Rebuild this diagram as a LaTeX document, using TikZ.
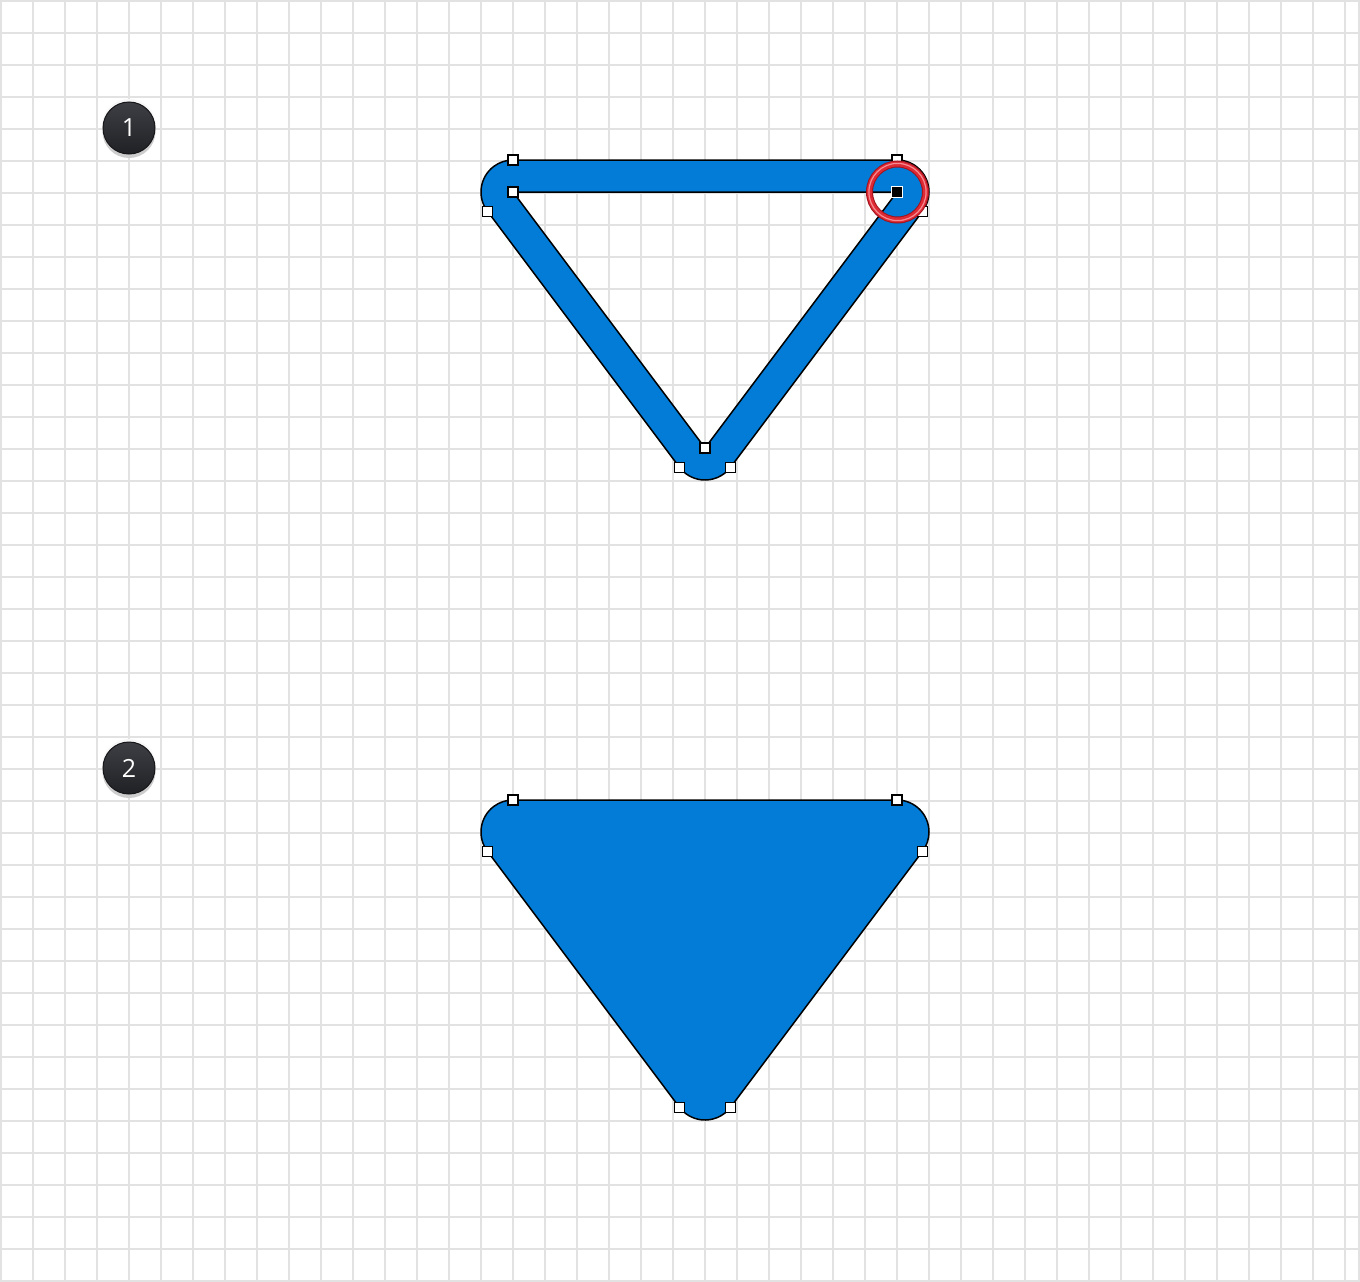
\documentclass[tikz,border=0pt]{standalone}
\usepackage{fontspec}
\setmainfont{Open Sans}
\definecolor{gridc}{RGB}{226,226,226}
\definecolor{blueA}{RGB}{2,124,214}
\definecolor{badgeTop}{RGB}{62,63,68}
\definecolor{badgeBot}{RGB}{32,33,37}
\definecolor{badgeRim}{RGB}{22,22,25}
\definecolor{shadowc}{RGB}{205,205,205}
\definecolor{ringDark}{RGB}{160,18,28}
\definecolor{ringRed}{RGB}{222,42,52}
\definecolor{ringLight}{RGB}{246,140,146}
\tikzset{
  gridline/.style={draw=gridc, line width=1.6pt},
  shapeline/.style={draw=black, line width=1.5pt, fill=blueA, line join=round},
  anchorsq/.style={draw=black, fill=white, line width=1.4pt, minimum size=10pt, inner sep=0pt, outer sep=0pt, rectangle},
  selsq/.style={draw=white, fill=black, line width=1pt, minimum size=11pt, inner sep=0pt, outer sep=0pt, rectangle},
  badge/.style={circle, minimum size=52pt, inner sep=0pt, draw=badgeRim, line width=1pt,
    top color=badgeTop, bottom color=badgeBot, text=white,
    font=\fontsize{25}{25}\selectfont},
}
\begin{document}
\begin{tikzpicture}[x=1pt,y=1pt,yscale=-1]
\useasboundingbox (0,0) rectangle (1360,1282);
\fill[white] (0,0) rectangle (1360,1282);
% grid
\foreach \x in {33,65,...,1345} \draw[gridline] (\x,0) -- (\x,1282);
\foreach \y in {33,65,...,1249} \draw[gridline] (0,\y) -- (1360,\y);
\draw[draw=gridc, line width=2.2pt] (0,641) -- (1360,641);
\draw[draw=gridc, line width=2.4pt] (1,1) rectangle (1359,1281);

% badges
\fill[shadowc] (129,131.5) circle[radius=26.5pt];
\fill[white!94!gray] (129,126) circle[radius=27pt];
\node[badge] (b1) at (129,128) {1};
\fill[shadowc] (129,771.5) circle[radius=26.5pt];
\fill[white!94!gray] (129,766) circle[radius=27pt];
\node[badge] (b2) at (129,768) {2};

% shape 1 (stroked triangle outline)
\path[shapeline, even odd rule]
  (513,160) -- (897,160) arc[start angle=-90, end angle=36.87, radius=32pt]
  -- (730.6,467.2) arc[start angle=36.87, end angle=143.13, radius=32pt]
  -- (487.4,211.2) arc[start angle=143.13, end angle=270, radius=32pt] -- cycle
  (513,192) -- (897,192) -- (705,448) -- cycle;

\node[anchorsq] (p1) at (513,160) {};
\node[anchorsq] (p2) at (897,160) {};
\node[anchorsq] (p3) at (487.4,211.2) {};
\node[anchorsq] (p4) at (922.6,211.2) {};
\node[anchorsq] (p5) at (679.4,467.2) {};
\node[anchorsq] (p6) at (730.6,467.2) {};
\node[anchorsq] (p7) at (513,192) {};
\node[anchorsq] (p8) at (705,448) {};
\node[selsq] (p9) at (897,192) {};

% red highlight ring
\draw[ringDark, line width=7pt] (897.5,192) circle[radius=28pt];
\draw[ringRed, line width=5pt] (897.5,192) circle[radius=28pt];
\draw[ringLight, line width=1.2pt] (897.5,192) circle[radius=28.6pt];

% shape 2 (filled)
\path[shapeline]
  (513,800) -- (897,800) arc[start angle=-90, end angle=36.87, radius=32pt]
  -- (730.6,1107.2) arc[start angle=36.87, end angle=143.13, radius=32pt]
  -- (487.4,851.2) arc[start angle=143.13, end angle=270, radius=32pt] -- cycle;

\node[anchorsq] (q1) at (513,800) {};
\node[anchorsq] (q2) at (897,800) {};
\node[anchorsq] (q3) at (487.4,851.2) {};
\node[anchorsq] (q4) at (922.6,851.2) {};
\node[anchorsq] (q5) at (679.4,1107.2) {};
\node[anchorsq] (q6) at (730.6,1107.2) {};
\end{tikzpicture}
\end{document}
